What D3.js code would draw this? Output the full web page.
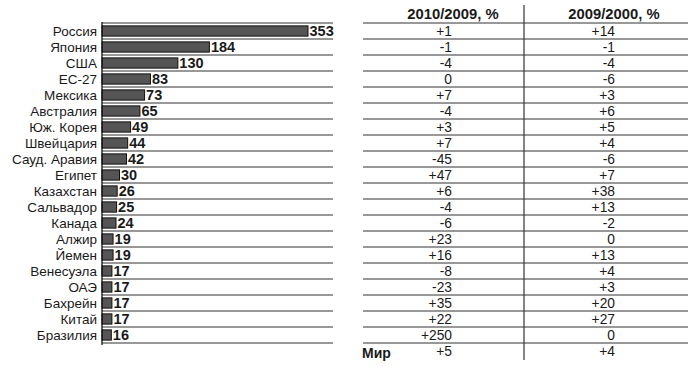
<!DOCTYPE html>
<html>
<head>
<meta charset="utf-8">
<script src="https://cdn.jsdelivr.net/npm/d3@7"></script>
<style>
  body { margin: 0; background: #fff; }
  svg { font-family: "Liberation Sans", Arial, sans-serif; }
</style>
</head>
<body>
<svg width="700" height="367"></svg>
<script>
var countries = ["Россия","Япония","США","ЕС-27","Мексика","Австралия","Юж. Корея","Швейцария","Сауд. Аравия","Египет","Казахстан","Сальвадор","Канада","Алжир","Йемен","Венесуэла","ОАЭ","Бахрейн","Китай","Бразилия"];
var values = [353,184,130,83,73,65,49,44,42,30,26,25,24,19,19,17,17,17,17,16];
var change1 = ["+1","-1","-4","0","+7","-4","+3","+7","-45","+47","+6","-4","-6","+23","+16","-8","-23","+35","+22","+250"];
var change2 = ["+14","-1","-4","-6","+3","+6","+5","+4","-6","+7","+38","+13","-2","0","+13","+4","+3","+20","+27","0"];
var headers = ["2010/2009, %","2009/2000, %"];
var worldLabel = "Мир";
var world = ["+5","+4"];

var svg = d3.select("svg");
var ink = "#1a1a1a";

var y = d3.scaleBand().domain(countries).range([23, 343]).paddingInner(0.36).paddingOuter(0.18);
var step = y.step();
var x = d3.scaleLinear().domain([0, 353]).range([102, 308]);

// row separator lines, left part
var lineYs = d3.range(countries.length + 1).map(function(i){ return 23 + i * step; });
svg.append("g").selectAll("line").data(lineYs).enter().append("line")
  .attr("x1", 102).attr("x2", 333)
  .attr("y1", function(d){ return d; }).attr("y2", function(d){ return d; })
  .attr("stroke", "#333").attr("stroke-width", 1.2);

// bars
svg.append("g").selectAll("rect").data(values).enter().append("rect")
  .attr("x", x(0))
  .attr("y", function(d, i){ return y(countries[i]); })
  .attr("width", function(d){ return x(d) - x(0); })
  .attr("height", y.bandwidth())
  .attr("fill", "#555").attr("stroke", "#111").attr("stroke-width", 1);

// value labels
svg.append("g").selectAll("text").data(values).enter().append("text")
  .attr("x", function(d){ return x(d) + 1.5; })
  .attr("y", function(d, i){ return y(countries[i]) + y.bandwidth() / 2; })
  .attr("dy", "0.37em")
  .attr("font-size", "14.5px").attr("font-weight", "bold").attr("fill", ink)
  .text(function(d){ return d; });

// category labels
svg.append("g").selectAll("text").data(countries).enter().append("text")
  .attr("x", 97)
  .attr("y", function(d){ return y(d) + y.bandwidth() / 2; })
  .attr("dy", "0.37em")
  .attr("text-anchor", "end")
  .attr("font-size", "13.5px").attr("fill", ink)
  .text(function(d){ return d; });

// axis line
svg.append("line").attr("x1", 102).attr("x2", 102).attr("y1", 22).attr("y2", 345)
  .attr("stroke", "#111").attr("stroke-width", 1.3);

// right table
svg.append("g").selectAll("line").data(lineYs).enter().append("line")
  .attr("x1", 363).attr("x2", 688)
  .attr("y1", function(d){ return d; }).attr("y2", function(d){ return d; })
  .attr("stroke", "#333").attr("stroke-width", 1.2);

svg.append("line").attr("x1", 524).attr("x2", 524).attr("y1", 5).attr("y2", 360)
  .attr("stroke", "#333").attr("stroke-width", 1.2);

var headerX = [453, 614];
svg.append("g").selectAll("text").data(headers).enter().append("text")
  .attr("x", function(d, i){ return headerX[i]; })
  .attr("y", 19)
  .attr("text-anchor", "middle")
  .attr("font-size", "14.8px").attr("font-weight", "bold").attr("fill", ink)
  .text(function(d){ return d; });

var colRight = [452, 615];
[change1, change2].forEach(function(col, c){
  svg.append("g").selectAll("text").data(col.concat([world[c]])).enter().append("text")
    .attr("x", colRight[c])
    .attr("y", function(d, i){ return 23 + (i + 0.5) * step; })
    .attr("dy", "0.37em")
    .attr("text-anchor", "end")
    .attr("font-size", "13.8px").attr("fill", ink)
    .text(function(d){ return d; });
});

svg.append("text")
  .attr("x", 362)
  .attr("y", 23 + (countries.length + 0.5) * step + 2)
  .attr("dy", "0.37em")
  .attr("font-size", "14px").attr("font-weight", "bold").attr("fill", ink)
  .text(worldLabel);
</script>
</body>
</html>
